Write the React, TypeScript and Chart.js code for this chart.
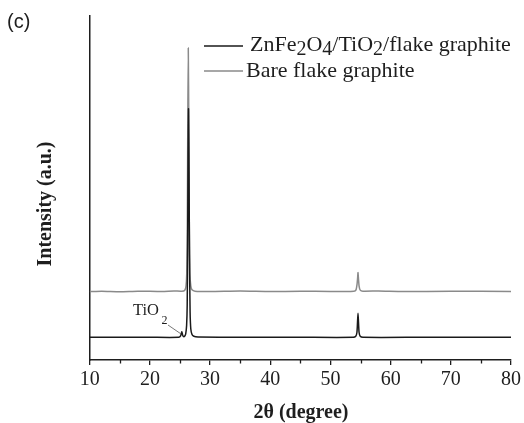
import React, { useEffect, useRef } from "react";
import { Chart, registerables } from "chart.js";

Chart.register(...registerables);

// ZnFe2O4/TiO2/flake graphite (black)
const blackX = [10, 15, 20, 24.8, 25.1, 25.3, 25.45, 25.6, 25.8, 25.95, 26.1, 26.2, 26.28, 26.35, 26.42, 26.5, 26.58, 26.68, 26.8, 27.0, 27.3, 28, 35, 45, 53.8, 54.2, 54.4, 54.5, 54.58, 54.66, 54.76, 54.95, 55.4, 65, 80];
const blackY = [6.6, 6.6, 6.6, 6.6, 7.0, 8.2, 7.2, 6.8, 7.0, 7.6, 10, 16, 35, 60, 73, 55, 30, 14, 9, 7.4, 6.9, 6.7, 6.6, 6.6, 6.6, 6.9, 8.0, 11.0, 13.6, 11, 8, 6.9, 6.6, 6.6, 6.6];

// Bare flake graphite (gray)
const grayX = [10, 12, 15, 18, 22, 24, 25.3, 25.8, 26.0, 26.12, 26.22, 26.3, 26.38, 26.46, 26.55, 26.65, 26.8, 27.0, 27.5, 30, 35, 40, 45, 50, 53.9, 54.25, 54.42, 54.52, 54.58, 54.66, 54.76, 54.95, 55.4, 58, 62, 70, 80];
const grayY = [19.9, 20.0, 19.85, 20.0, 19.9, 20.05, 20.0, 20.3, 21.5, 25, 40, 70, 90.7, 70, 40, 25, 21.5, 20.4, 20.0, 19.9, 20.05, 19.9, 20.0, 19.9, 20.0, 20.4, 22, 24, 25.4, 23.5, 21.5, 20.3, 20.0, 20.05, 19.9, 20.0, 19.9];

const xMin = 10;
const xMax = 80;
const xStep = 10;
const minorTicks = [15, 25, 35, 45, 55, 65, 75];
const annotX = 25.3;
const annotY = 8.2;

const TEXT = "#1e1e1e";
const SERIF = "'Liberation Serif', 'Times New Roman', serif";

function drawRich(ctx: CanvasRenderingContext2D, parts: [string, boolean][], x: number, y: number, size: number, subSize: number, subOff: number) {
  let cx = x;
  for (const [t, sub] of parts) {
    ctx.font = `${sub ? subSize : size}px ${SERIF}`;
    ctx.fillText(t, cx, sub ? y + subOff : y);
    cx += ctx.measureText(t).width;
  }
}

const decor = {
  id: "decor",
  afterDraw(chart: any) {
    const ctx = chart.ctx as CanvasRenderingContext2D;
    const xs = chart.scales.x;
    const ys = chart.scales.y;
    const bottom = chart.chartArea.bottom;
    ctx.save();
    // minor ticks
    ctx.strokeStyle = TEXT;
    ctx.lineWidth = 1.3;
    for (const v of minorTicks) {
      const px = Math.round(xs.getPixelForValue(v)) + 0.5;
      ctx.beginPath();
      ctx.moveTo(px, bottom);
      ctx.lineTo(px, bottom + 3.5);
      ctx.stroke();
    }
    ctx.fillStyle = TEXT;
    // (c)
    ctx.font = "20px 'Liberation Sans', Arial, sans-serif";
    ctx.textBaseline = "middle";
    ctx.textAlign = "left";
    ctx.fillText("(c)", 7, 22);
    // legend
    ctx.lineWidth = 1.5;
    ctx.strokeStyle = "#1a1a1a";
    ctx.beginPath();
    ctx.moveTo(204, 46);
    ctx.lineTo(243, 46);
    ctx.stroke();
    ctx.strokeStyle = "#8a8a8a";
    ctx.beginPath();
    ctx.moveTo(204, 71);
    ctx.lineTo(243, 71);
    ctx.stroke();
    drawRich(ctx, [["ZnFe", false], ["2", true], ["O", false], ["4", true], ["/TiO", false], ["2", true], ["/flake graphite", false]], 250, 45, 22, 20, 5);
    drawRich(ctx, [["Bare flake graphite", false]], 246, 71, 22, 20, 5);
    // TiO2 annotation
    drawRich(ctx, [["TiO", false]], 133, 311, 16.5, 12, 0);
    ctx.font = `12px ${SERIF}`;
    ctx.fillText("2", 161.5, 321);
    const tx = xs.getPixelForValue(annotX);
    const ty = ys.getPixelForValue(annotY);
    ctx.strokeStyle = "#555";
    ctx.lineWidth = 0.8;
    ctx.beginPath();
    ctx.moveTo(168, 325);
    ctx.lineTo(tx - 1, ty + 2);
    ctx.stroke();
    // x title
    ctx.textAlign = "center";
    ctx.font = `bold 20px ${SERIF}`;
    ctx.fillText("2θ (degree)", 301, 413);
    // y title
    ctx.translate(46, 204);
    ctx.rotate(-Math.PI / 2);
    ctx.fillText("Intensity (a.u.)", 0, 0);
    ctx.restore();
  },
};

export default function App() {
  const ref = useRef<HTMLCanvasElement>(null);
  useEffect(() => {
    if (!ref.current) return;
    const chart = new Chart(ref.current, {
      type: "line",
      data: {
        datasets: [
          {
            label: "ZnFe2O4/TiO2/flake graphite",
            data: blackX.map((x, i) => ({ x, y: blackY[i] })),
            borderColor: "#1a1a1a",
            borderWidth: 1.5,
            pointRadius: 0,
            tension: 0.2,
          },
          {
            label: "Bare flake graphite",
            data: grayX.map((x, i) => ({ x, y: grayY[i] })),
            borderColor: "#8a8a8a",
            borderWidth: 1.5,
            pointRadius: 0,
            tension: 0.2,
          },
        ],
      },
      options: {
        animation: false,
        responsive: true,
        maintainAspectRatio: false,
        layout: { padding: { left: 89.7, right: 11.3, top: 16, bottom: 0 } },
        plugins: { legend: { display: false }, tooltip: { enabled: false } },
        scales: {
          x: {
            type: "linear",
            min: xMin,
            max: xMax,
            ticks: { stepSize: xStep, color: TEXT, font: { family: SERIF, size: 20 }, padding: 3, maxRotation: 0 },
            grid: { display: true, drawOnChartArea: false, drawTicks: true, tickLength: 5, color: TEXT, lineWidth: 1.3 },
            border: { display: true, color: TEXT, width: 1.5 },
            afterFit: (s: any) => { s.height = 63; },
          },
          y: {
            min: 0,
            max: 100,
            ticks: { display: false },
            grid: { display: false },
            border: { display: true, color: TEXT, width: 1.5 },
            afterFit: (s: any) => { s.width = 0; },
          },
        },
      },
      plugins: [decor],
    } as any);
    return () => chart.destroy();
  }, []);
  return (
    <div style={{ position: "absolute", left: 0, top: 0, width: 524, height: 423, background: "#fff" }}>
      <canvas ref={ref} />
    </div>
  );
}
